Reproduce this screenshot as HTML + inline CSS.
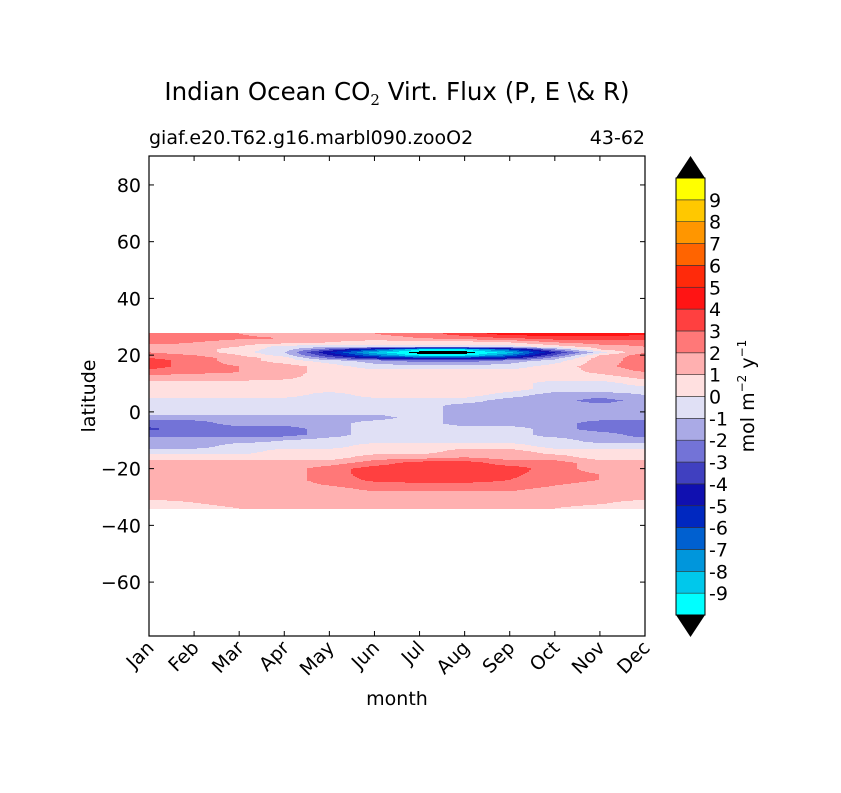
<!DOCTYPE html>
<html><head><meta charset="utf-8"><style>
html,body{margin:0;padding:0;background:#fff;}
svg text{font-family:"DejaVu Sans","Liberation Sans",sans-serif;fill:#000;}
</style></head><body>
<svg id="fig" width="841" height="788" viewBox="0 0 841 788" xmlns="http://www.w3.org/2000/svg">
<rect width="841" height="788" fill="#fff"/>
<text x="397" y="100" font-size="24.5" text-anchor="middle">Indian Ocean CO<tspan font-family="DejaVu Serif,serif" font-size="15" dy="5">2</tspan><tspan dy="-5"> Virt. Flux (P, E \&amp; R)</tspan></text>
<text x="149" y="144" font-size="19">giaf.e20.T62.g16.marbl090.zooO2</text>
<text x="645" y="144" font-size="19" text-anchor="end">43-62</text>
<g id="plot"></g>
<rect x="149" y="156" width="496" height="480" fill="none" stroke="#000" stroke-width="1.2"/>
<g id="axes"></g>
<text transform="translate(95,396) rotate(-90)" font-size="19" text-anchor="middle">latitude</text>
<text x="397" y="705" font-size="19" text-anchor="middle">month</text>
<g id="cbar"></g>
<text transform="translate(754,396) rotate(-90)" font-size="19" text-anchor="middle">mol m<tspan font-size="12" dy="-8">−2</tspan><tspan dy="8">  y</tspan><tspan font-size="12" dy="-8">−1</tspan></text>
</svg>
<script>
const months=["Jan","Feb","Mar","Apr","May","Jun","Jul","Aug","Sep","Oct","Nov","Dec"];
const latTicks=[80,60,40,20,0,-20,-40,-60];
const levels=[-10,-9,-8,-7,-6,-5,-4,-3,-2,-1,0,1,2,3,4,5,6,7,8,9,10];
const levelColors=["#00ffff","#00c8eb","#0096dc","#0060d0","#0028c0","#1010b0","#4040c0","#7373d7","#aaaae6","#e0e0f5","#ffe0e0","#ffb0b0","#ff7878","#ff4040","#ff1414","#ff2a0a","#ff6400","#ff9600","#ffc800","#ffff00"];
const cbarTicks=[-9,-8,-7,-6,-5,-4,-3,-2,-1,0,1,2,3,4,5,6,7,8,9];
const lats=[27.5,26,24.5,23,22,21,20,19,18,16,14,12,10,8,6,4,2,0,-2,-4,-6,-8,-10,-12,-14,-16,-18,-20,-22,-24,-26,-28,-30,-32,-34];
const flux=[
[2.5,2.5,2,1.5,1.5,2,2.5,3.5,4.5,4.5,4.5,4.2],
[2.5,2.5,2.2,2,1.5,1.5,2,2.5,3,3.5,3.5,3.5],
[2.5,2,1.5,1.5,1,0.5,0.5,0.5,1,2,2.5,2.5],
[1.5,1.5,1,-0.5,-0.5,-0.5,-0.5,-0.5,-0.5,0.5,1.5,2],
[1.5,1.5,0.5,-0.5,-3,-6,-9,-9,-6,-2,1,2],
[2,1.5,0.5,-1,-5,-8.5,-10.5,-10.5,-8.5,-4,-0.5,2],
[2.5,2,1,-0.5,-4,-7,-9.5,-9.5,-7,-3,1,2.5],
[3,2.5,1.5,0.5,-2.5,-4.5,-5.5,-5.5,-4.5,-1.5,1.5,2.5],
[3.5,2.5,1.5,0.5,-0.5,-1.5,-2.5,-2.5,-1.5,-0.5,1.5,2.5],
[3.5,2.5,2,1.5,0.5,-0.5,-0.5,-0.5,-0.5,0.5,1.5,2.8],
[2.5,2.2,2,1.5,0.5,0.5,0.5,0.5,0.5,0.5,1.2,2],
[1.5,1.5,1.5,1.2,0.5,0.5,0.5,0.5,0.5,0.5,0.5,1.2],
[0.5,0.5,0.5,0.5,0.5,0.5,0.5,0.5,0.5,-0.5,-0.5,0.5],
[0.5,0.5,0.5,0.5,0.5,0.5,1,0.5,0.5,-0.5,-0.5,-0.5],
[0.5,0.5,0.5,0.5,-0.5,0.5,0.5,0.5,-0.5,-1.5,-1.5,-1],
[-0.5,-0.5,-0.5,-0.5,-0.5,-0.5,-0.5,-0.5,-1.5,-1.5,-2.5,-1.5],
[-0.5,-0.5,-0.5,-0.5,-0.5,-0.5,-0.5,-1.5,-1.5,-1.5,-1.5,-1.5],
[-0.5,-0.5,-0.5,-0.5,-0.5,-0.5,-0.5,-1.5,-1.5,-1.5,-1.5,-1.5],
[-1.5,-1.5,-1.5,-1.5,-1.5,-1.5,-0.5,-1.5,-1.5,-1.5,-1.5,-1.5],
[-2.5,-2.5,-1.5,-1.5,-1.5,-0.5,-0.5,-1.5,-1.5,-1.5,-2.5,-2.5],
[-3.2,-2.5,-2.5,-2.5,-1.5,-0.5,-0.5,-0.5,-0.5,-1.5,-2.5,-2.5],
[-2.5,-2.5,-2.5,-2.5,-1.5,-0.5,-0.5,-0.5,-0.5,-1.5,-1.5,-2.5],
[-1.5,-1.5,-1.5,-1,-0.5,-0.5,-0.5,-0.5,-0.5,-0.5,-1.5,-1.5],
[-1.5,-1.5,-0.5,-0.5,-0.5,0.5,0.5,0.5,0.5,-0.5,-0.5,-0.5],
[-0.5,-0.5,-0.5,0.5,0.5,0.5,0.5,1.5,1.5,0.5,0.5,0.5],
[0.5,0.5,0.5,0.5,0.5,1.5,1.5,2,1.5,1.5,0.5,0.5],
[1.5,1.5,1.5,1.5,1.5,2.5,3.5,3.5,2.5,2.5,1.5,1.5],
[1.5,1.5,1.5,1.5,2.5,3.5,3.5,3.5,3.5,2.5,1.5,1.5],
[1.5,1.5,1.5,1.5,2.5,3.5,3.5,3.5,3.2,2.5,2,1.5],
[1.5,1.5,1.5,1.5,2.5,3.2,3.5,3.5,3,2.5,2,1.5],
[1.5,1.5,1.5,1.5,2,2.5,2.5,2.5,2.5,2,1.5,1.5],
[1.5,1.5,1.5,1.5,1.5,2,2,2,2,1.5,1.5,1.5],
[1.5,1.5,1.5,1.5,1.5,1.5,1.5,1.5,1.5,1.5,1.5,1.5],
[0.5,1,1.5,1.5,1.5,1.5,1.5,1.5,1.5,1.5,1.2,0.5],
[0.5,0.5,1,1.5,1.5,1.5,1.5,1.5,1.5,1,0.5,0.5]
];
const NS="http://www.w3.org/2000/svg";
const X0=149,X1=645,Y0=156,Y1=636,LATMAX=90.2,LATMIN=-79;
function xScale(m){return X0+(m-1)/11*(X1-X0);}
function yScale(lat){return Y0+(LATMAX-lat)/(LATMAX-LATMIN)*(Y1-Y0);}
function mk(tag,attrs,parent){const e=document.createElementNS(NS,tag);for(const k in attrs)e.setAttribute(k,attrs[k]);parent.appendChild(e);return e;}
function colorFor(v){
  if(v<levels[0])return "#000";
  if(v>=levels[levels.length-1])return "#000";
  for(let i=0;i<levels.length-1;i++){if(v<levels[i+1])return levelColors[i];}
  return "#000";
}
function sample(m,lat){
  let fm=Math.min(Math.max(m-1,0),11);let i0=Math.min(Math.floor(fm),10);let tx=fm-i0;
  let j=0;while(j<lats.length-2&&lat<lats[j+1])j++;
  let ty=(lats[j]-lat)/(lats[j]-lats[j+1]);ty=Math.min(Math.max(ty,0),1);
  const a=flux[j][i0],b=flux[j][i0+1],c=flux[j+1][i0],d=flux[j+1][i0+1];
  return (a*(1-tx)+b*tx)*(1-ty)+(c*(1-tx)+d*tx)*ty;
}
const plot=document.getElementById('plot');
const yTop=yScale(lats[0]),yBot=yScale(lats[lats.length-1]);
const cw=2,ch=1;
let paths={};
for(let py=Math.floor(yTop);py<Math.ceil(yBot);py+=ch){
  const lat=LATMAX-(py+ch/2-Y0)/(Y1-Y0)*(LATMAX-LATMIN);
  let run=null,rx=X0;
  for(let px=X0;px<X1;px+=cw){
    const m=1+(px+cw/2-X0)/(X1-X0)*11;
    const col=colorFor(sample(m,lat));
    if(col!==run){
      if(run!==null){(paths[run]=paths[run]||[]).push(`M${rx} ${py}h${px-rx}v${ch}h${-(px-rx)}z`);}
      run=col;rx=px;
    }
  }
  (paths[run]=paths[run]||[]).push(`M${rx} ${py}h${X1-rx}v${ch}h${-(X1-rx)}z`);
}
for(const col in paths){
  const p=mk('path',{d:paths[col].join(''),fill:col,'shape-rendering':'crispEdges'},plot);
  
  
}
const axes=document.getElementById('axes');
latTicks.forEach(t=>{
  const y=yScale(t);
  mk('line',{x1:X0,x2:X0+5,y1:y,y2:y,stroke:'#000'},axes);
  mk('line',{x1:X1-5,x2:X1,y1:y,y2:y,stroke:'#000'},axes);
  const tx=mk('text',{x:X0-8,y:y+7,'font-size':'19','text-anchor':'end'},axes);
  tx.textContent=t<0?'\u2212'+(-t):String(t);
  
  
});
months.forEach((mn,i)=>{
  const x=xScale(i+1);
  mk('line',{x1:x,x2:x,y1:Y1,y2:Y1-5,stroke:'#000'},axes);
  mk('line',{x1:x,x2:x,y1:Y0,y2:Y0+5,stroke:'#000'},axes);
  const tx=mk('text',{x:0,y:0,'font-size':'19','text-anchor':'end',transform:`translate(${x+6},${649}) rotate(-45)`},axes);
  tx.textContent=mn;
  
  
});
const cb=document.getElementById('cbar');
const CX0=676,CX1=705,CT=178,CB=615;
function cbY(v){return CB-(v-levels[0])/(levels[levels.length-1]-levels[0])*(CB-CT);}
mk('polygon',{points:`${CX0},${CT} ${CX1},${CT} ${(CX0+CX1)/2},${156}`,fill:'#000'},cb);
mk('polygon',{points:`${CX0},${CB} ${CX1},${CB} ${(CX0+CX1)/2},${637}`,fill:'#000'},cb);
for(let i=0;i<levels.length-1;i++){
  const r=mk('rect',{x:CX0,y:cbY(levels[i+1]),width:CX1-CX0,height:cbY(levels[i])-cbY(levels[i+1]),fill:levelColors[i],stroke:'#333','stroke-width':'0.6'},cb);
  
  
}
mk('rect',{x:CX0,y:CT,width:CX1-CX0,height:CB-CT,fill:'none',stroke:'#000','stroke-width':'1'},cb);
cbarTicks.forEach(t=>{
  const tx=mk('text',{x:709,y:cbY(t)+7,'font-size':'19'},cb);
  tx.textContent=t<0?'-'+(-t):String(t);
  
  
});
</script>
</body></html>
